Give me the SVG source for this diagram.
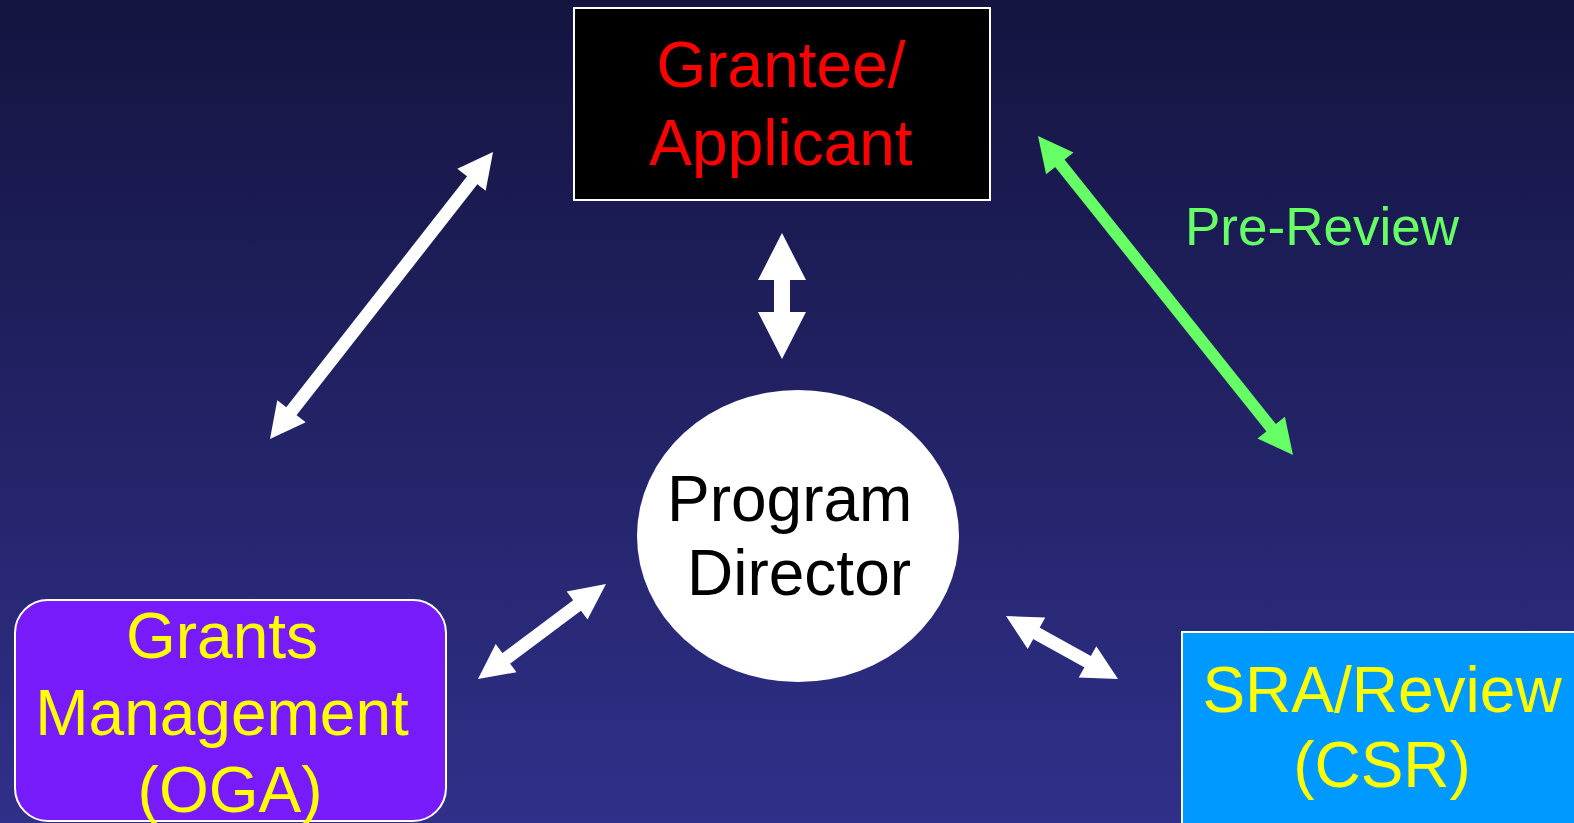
<svg xmlns="http://www.w3.org/2000/svg" width="1574" height="823" viewBox="0 0 1574 823">
  <defs>
    <linearGradient id="bg" x1="0" y1="0" x2="0" y2="1">
      <stop offset="0" stop-color="#141440"/>
      <stop offset="1" stop-color="#30308A"/>
    </linearGradient>
    <style>
      text { font-family: "Liberation Sans", Arial, sans-serif; }
      .box { stroke: #FFFFFF; stroke-width: 2; }
      .big { font-size: 64px; text-anchor: middle; }
      .white { fill: #FFFFFF; }
      .green { fill: #66FF66; }
      .wshaft { stroke: #FFFFFF; stroke-width: 13; }
      .gshaft { stroke: #66FF66; stroke-width: 12; }
    </style>
  </defs>
  <rect x="0" y="0" width="1574" height="823" fill="url(#bg)"/>

  <g id="connectors">
    <!-- Grantee <-> Grants Management -->
    <g id="arrow-grantee-gm">
      <line class="wshaft" x1="474" y1="178" x2="290" y2="413"/>
      <polygon class="white" points="493,152 485.7,190.7 457.3,168.7"/>
      <polygon class="white" points="270,439 305.7,422.3 277.3,400.3"/>
    </g>
    <!-- Grantee <-> Program Director -->
    <g id="arrow-grantee-pd">
      <polygon class="white" points="782,233 806,280 790,280 790,312 806,312 782,359 758,312 774,312 774,280 758,280"/>
    </g>
    <!-- Grantee <-> SRA (Pre-Review) -->
    <g id="arrow-grantee-sra">
      <line class="gshaft" x1="1058" y1="161" x2="1273" y2="430"/>
      <polygon class="green" points="1038,136 1046.1,174.2 1073.5,152.4"/>
      <polygon class="green" points="1293,455 1257.5,438.6 1284.9,416.8"/>
      <text x="1185" y="245" font-size="53" class="green">Pre-Review</text>
    </g>
    <!-- Program Director <-> Grants Management -->
    <g id="arrow-pd-gm">
      <line class="wshaft" x1="579" y1="604" x2="504" y2="660"/>
      <polygon class="white" points="606,584 587.5,619.6 566.7,591.4"/>
      <polygon class="white" points="478,679 516.5,672.2 495.7,644.0"/>
    </g>
    <!-- Program Director <-> SRA -->
    <g id="arrow-pd-sra">
      <line class="wshaft" x1="1034" y1="632" x2="1090" y2="663"/>
      <polygon class="white" points="1006,616 1027.7,648.9 1045.3,617.5"/>
      <polygon class="white" points="1118,679 1078.7,677.6 1096.3,646.2"/>
    </g>
  </g>

  <g id="node-grantee">
    <rect class="box" x="574" y="8" width="416" height="192" fill="#000000"/>
    <text class="big" x="781" y="87" fill="#FF0000">Grantee/</text>
    <text class="big" x="781" y="165" fill="#FF0000">Applicant</text>
  </g>

  <g id="node-program-director">
    <ellipse cx="798" cy="536" rx="161" ry="146" fill="#FFFFFF"/>
    <text x="667" y="521" font-size="64" fill="#000000">Program</text>
    <text x="687" y="595" font-size="64" fill="#000000">Director</text>
  </g>

  <g id="node-grants-management">
    <rect class="box" x="15" y="600" width="431" height="221" rx="33" ry="33" fill="#771BFA"/>
    <text class="big" x="222" y="658" fill="#FFFF00">Grants</text>
    <text class="big" x="222" y="735" fill="#FFFF00">Management</text>
    <text class="big" x="230" y="812" fill="#FFFF00">(OGA)</text>
  </g>

  <g id="node-sra-review">
    <rect class="box" x="1182" y="632" width="420" height="220" fill="#0099FF"/>
    <text class="big" x="1382" y="712" fill="#FFFF00">SRA/Review</text>
    <text class="big" x="1382" y="787" fill="#FFFF00">(CSR)</text>
  </g>
</svg>
